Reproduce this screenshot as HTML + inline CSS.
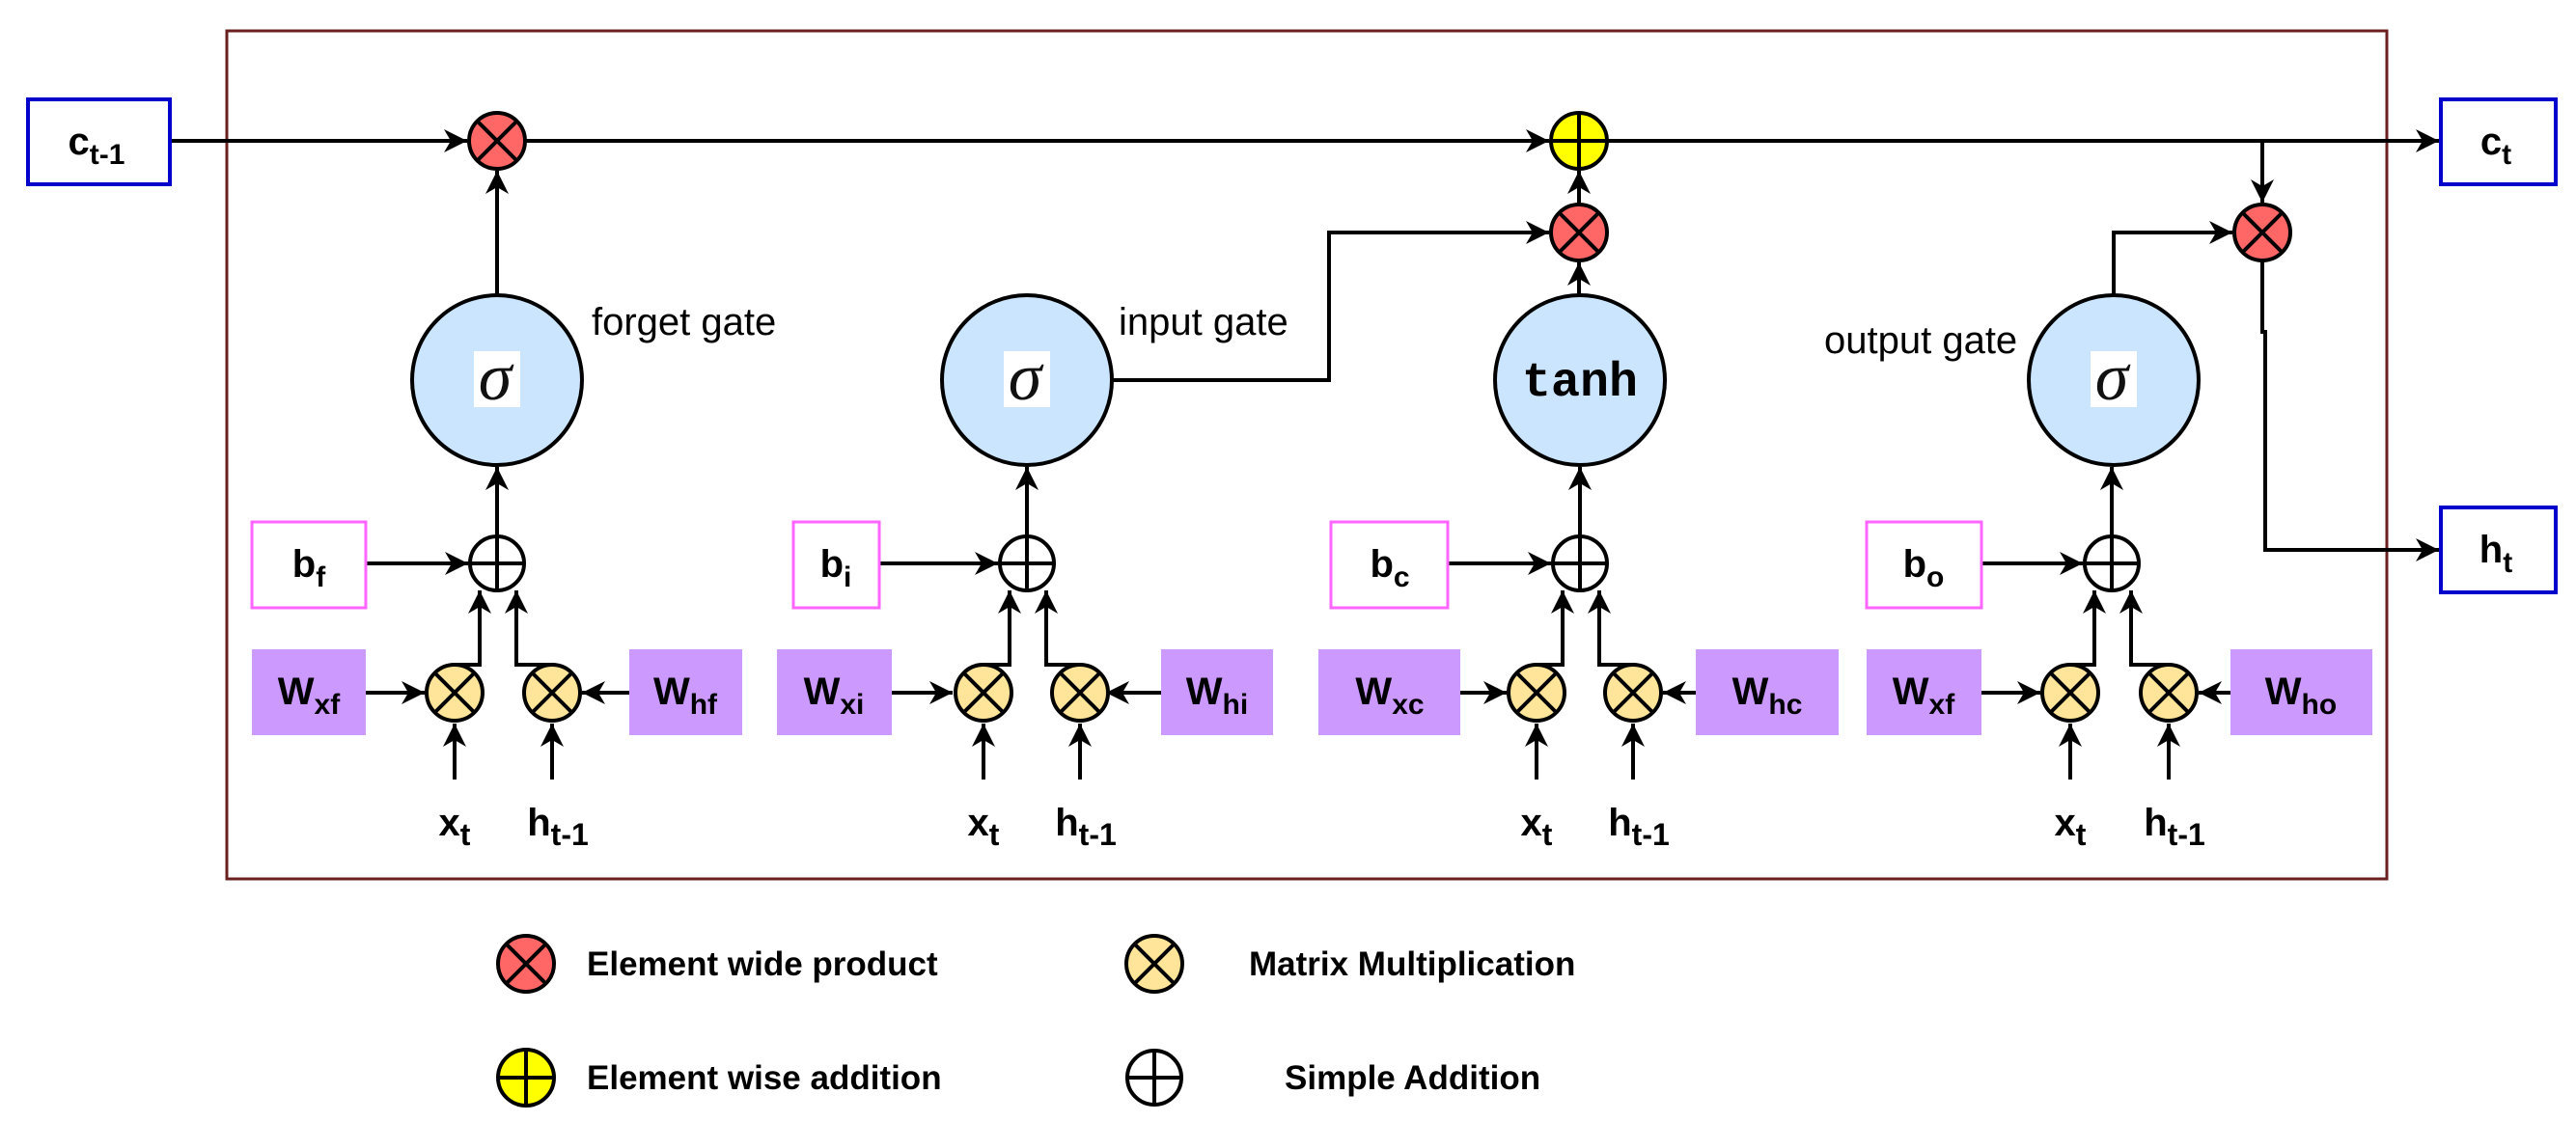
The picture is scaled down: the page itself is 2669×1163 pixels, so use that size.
<!DOCTYPE html>
<html><head><meta charset="utf-8"><style>html,body{margin:0;padding:0;background:#fff}svg{display:block}</style></head>
<body>
<svg width="2669" height="1163" viewBox="0 0 2669 1163" xmlns="http://www.w3.org/2000/svg" font-family="Liberation Sans, sans-serif">
<defs>
<marker id="a" markerUnits="userSpaceOnUse" markerWidth="26" markerHeight="24" refX="24" refY="12" orient="auto">
<path d="M0,0 L24,12 L0,24 L7,12 Z" fill="#000"/></marker>
<g id="rx"><circle r="29" fill="#ff6666" stroke="#000" stroke-width="4"/><path d="M-20,-20L20,20M20,-20L-20,20" stroke="#000" stroke-width="4"/></g>
<g id="mx"><circle r="29" fill="#ffe599" stroke="#000" stroke-width="4"/><path d="M-20,-20L20,20M20,-20L-20,20" stroke="#000" stroke-width="4"/></g>
<g id="pl"><circle r="28" fill="#fff" stroke="#000" stroke-width="4"/><path d="M-28,0H28M0,-28V28" stroke="#000" stroke-width="4"/></g>
<g id="yl"><circle r="29" fill="#ffff00" stroke="#000" stroke-width="4"/><path d="M-29,0H29M0,-29V29" stroke="#000" stroke-width="4"/></g>
<g id="sg"><circle r="88" fill="#cce5ff" stroke="#000" stroke-width="4"/><rect x="-24" y="-30" width="48" height="58" fill="#fff"/><text x="-2" y="20" font-family="Liberation Serif, serif" font-style="italic" font-size="70" text-anchor="middle" fill="#111">σ</text></g>
</defs>
<rect x="235" y="32" width="2238" height="879" fill="none" stroke="#6b2020" stroke-width="3"/>
<g fill="none" stroke="#000" stroke-width="4">
<path d="M176,146H484" marker-end="url(#a)"/>
<path d="M544,146H1605" marker-end="url(#a)"/>
<path d="M1665,146H2527" marker-end="url(#a)"/>
<path d="M515,306V177" marker-end="url(#a)"/>
<path d="M1153,394H1377V241H1605" marker-end="url(#a)"/>
<path d="M1636,306V272" marker-end="url(#a)"/>
<path d="M1636,212V177" marker-end="url(#a)"/>
<path d="M2190,306V241H2313" marker-end="url(#a)"/>
<path d="M2344,146V210" marker-end="url(#a)"/>
<path d="M2344,270V344H2347V570H2527" marker-end="url(#a)"/>
</g>
<rect x="29" y="103" width="147" height="88" fill="#fff" stroke="#0000cc" stroke-width="4"/>
<text x="100" y="160" font-size="40" font-weight="bold" text-anchor="middle">c<tspan font-size="30" dy="10">t-1</tspan></text>
<rect x="2529" y="103" width="119" height="88" fill="#fff" stroke="#0000cc" stroke-width="4"/>
<text x="2586" y="160" font-size="40" font-weight="bold" text-anchor="middle">c<tspan font-size="30" dy="10">t</tspan></text>
<rect x="2529" y="526" width="119" height="88" fill="#fff" stroke="#0000cc" stroke-width="4"/>
<text x="2586" y="583" font-size="40" font-weight="bold" text-anchor="middle">h<tspan font-size="30" dy="10">t</tspan></text>
<use href="#rx" x="515" y="146"/>
<use href="#yl" x="1636" y="146"/>
<use href="#rx" x="1636" y="241"/>
<use href="#rx" x="2344" y="241"/>
<use href="#sg" x="515" y="394"/>
<use href="#sg" x="1064" y="394"/>
<use href="#sg" x="2190" y="394"/>
<circle cx="1637" cy="394" r="88" fill="#cce5ff" stroke="#000" stroke-width="4"/>
<text x="1637" y="410" font-family="Liberation Mono, monospace" font-weight="bold" font-size="50" text-anchor="middle">tanh</text>
<g font-size="40">
<text x="613" y="347">forget gate</text>
<text x="1159" y="347">input gate</text>
<text x="1890" y="366">output gate</text>
</g>
<g>
<g fill="none" stroke="#000" stroke-width="4">
<path d="M515,556V484" marker-end="url(#a)"/>
<path d="M379,584H485" marker-end="url(#a)"/>
<path d="M379,718H440" marker-end="url(#a)"/>
<path d="M652,718H603" marker-end="url(#a)"/>
<path d="M471,689H497V612" marker-end="url(#a)"/>
<path d="M572,689H535V612" marker-end="url(#a)"/>
<path d="M471,808V750" marker-end="url(#a)"/>
<path d="M572,808V750" marker-end="url(#a)"/>
</g>
<use href="#pl" x="515" y="584"/><use href="#mx" x="471" y="718"/><use href="#mx" x="572" y="718"/>
<rect x="261" y="541" width="118" height="89" fill="#fff" stroke="#ff66ff" stroke-width="3"/>
<rect x="261" y="673" width="118" height="89" fill="#cc99ff"/>
<rect x="652" y="673" width="117" height="89" fill="#cc99ff"/>
<g font-weight="bold" font-size="40" text-anchor="middle">
<text x="320" y="598">b<tspan font-size="30" dy="10">f</tspan></text>
<text x="320" y="730">W<tspan font-size="30" dy="10">xf</tspan></text>
<text x="710" y="730">W<tspan font-size="30" dy="10">hf</tspan></text>
<text x="471" y="866">x<tspan font-size="32" dy="10">t</tspan></text>
<text x="578" y="866">h<tspan font-size="32" dy="10">t-1</tspan></text>
</g>
</g>
<g>
<g fill="none" stroke="#000" stroke-width="4">
<path d="M1064,556V484" marker-end="url(#a)"/>
<path d="M911,584H1034" marker-end="url(#a)"/>
<path d="M924,718H987" marker-end="url(#a)"/>
<path d="M1203,718H1146" marker-end="url(#a)"/>
<path d="M1019,689H1046V612" marker-end="url(#a)"/>
<path d="M1119,689H1084V612" marker-end="url(#a)"/>
<path d="M1019,808V750" marker-end="url(#a)"/>
<path d="M1119,808V750" marker-end="url(#a)"/>
</g>
<use href="#pl" x="1064" y="584"/><use href="#mx" x="1019" y="718"/><use href="#mx" x="1119" y="718"/>
<rect x="822" y="541" width="89" height="89" fill="#fff" stroke="#ff66ff" stroke-width="3"/>
<rect x="805" y="673" width="119" height="89" fill="#cc99ff"/>
<rect x="1203" y="673" width="116" height="89" fill="#cc99ff"/>
<g font-weight="bold" font-size="40" text-anchor="middle">
<text x="866" y="598">b<tspan font-size="30" dy="10">i</tspan></text>
<text x="864" y="730">W<tspan font-size="30" dy="10">xi</tspan></text>
<text x="1261" y="730">W<tspan font-size="30" dy="10">hi</tspan></text>
<text x="1019" y="866">x<tspan font-size="32" dy="10">t</tspan></text>
<text x="1125" y="866">h<tspan font-size="32" dy="10">t-1</tspan></text>
</g>
</g>
<g>
<g fill="none" stroke="#000" stroke-width="4">
<path d="M1637,556V484" marker-end="url(#a)"/>
<path d="M1500,584H1607" marker-end="url(#a)"/>
<path d="M1513,718H1561" marker-end="url(#a)"/>
<path d="M1757,718H1723" marker-end="url(#a)"/>
<path d="M1592,689H1619V612" marker-end="url(#a)"/>
<path d="M1692,689H1657V612" marker-end="url(#a)"/>
<path d="M1592,808V750" marker-end="url(#a)"/>
<path d="M1692,808V750" marker-end="url(#a)"/>
</g>
<use href="#pl" x="1637" y="584"/><use href="#mx" x="1592" y="718"/><use href="#mx" x="1692" y="718"/>
<rect x="1379" y="541" width="121" height="89" fill="#fff" stroke="#ff66ff" stroke-width="3"/>
<rect x="1366" y="673" width="147" height="89" fill="#cc99ff"/>
<rect x="1757" y="673" width="148" height="89" fill="#cc99ff"/>
<g font-weight="bold" font-size="40" text-anchor="middle">
<text x="1440" y="598">b<tspan font-size="30" dy="10">c</tspan></text>
<text x="1440" y="730">W<tspan font-size="30" dy="10">xc</tspan></text>
<text x="1831" y="730">W<tspan font-size="30" dy="10">hc</tspan></text>
<text x="1592" y="866">x<tspan font-size="32" dy="10">t</tspan></text>
<text x="1698" y="866">h<tspan font-size="32" dy="10">t-1</tspan></text>
</g>
</g>
<g>
<g fill="none" stroke="#000" stroke-width="4">
<path d="M2188,556V484" marker-end="url(#a)"/>
<path d="M2053,584H2158" marker-end="url(#a)"/>
<path d="M2053,718H2114" marker-end="url(#a)"/>
<path d="M2311,718H2278" marker-end="url(#a)"/>
<path d="M2145,689H2170V612" marker-end="url(#a)"/>
<path d="M2247,689H2208V612" marker-end="url(#a)"/>
<path d="M2145,808V750" marker-end="url(#a)"/>
<path d="M2247,808V750" marker-end="url(#a)"/>
</g>
<use href="#pl" x="2188" y="584"/><use href="#mx" x="2145" y="718"/><use href="#mx" x="2247" y="718"/>
<rect x="1934" y="541" width="119" height="89" fill="#fff" stroke="#ff66ff" stroke-width="3"/>
<rect x="1934" y="673" width="119" height="89" fill="#cc99ff"/>
<rect x="2311" y="673" width="147" height="89" fill="#cc99ff"/>
<g font-weight="bold" font-size="40" text-anchor="middle">
<text x="1993" y="598">b<tspan font-size="30" dy="10">o</tspan></text>
<text x="1993" y="730">W<tspan font-size="30" dy="10">xf</tspan></text>
<text x="2384" y="730">W<tspan font-size="30" dy="10">ho</tspan></text>
<text x="2145" y="866">x<tspan font-size="32" dy="10">t</tspan></text>
<text x="2253" y="866">h<tspan font-size="32" dy="10">t-1</tspan></text>
</g>
</g>
<use href="#rx" x="545" y="999"/>
<use href="#yl" x="545" y="1117"/>
<use href="#mx" x="1196" y="999"/>
<use href="#pl" x="1196" y="1117"/>
<g font-weight="bold" font-size="35">
<text x="608" y="1011">Element wide product</text>
<text x="608" y="1129">Element wise addition</text>
<text x="1294" y="1011">Matrix Multiplication</text>
<text x="1331" y="1129">Simple Addition</text>
</g>
</svg>
</body></html>
